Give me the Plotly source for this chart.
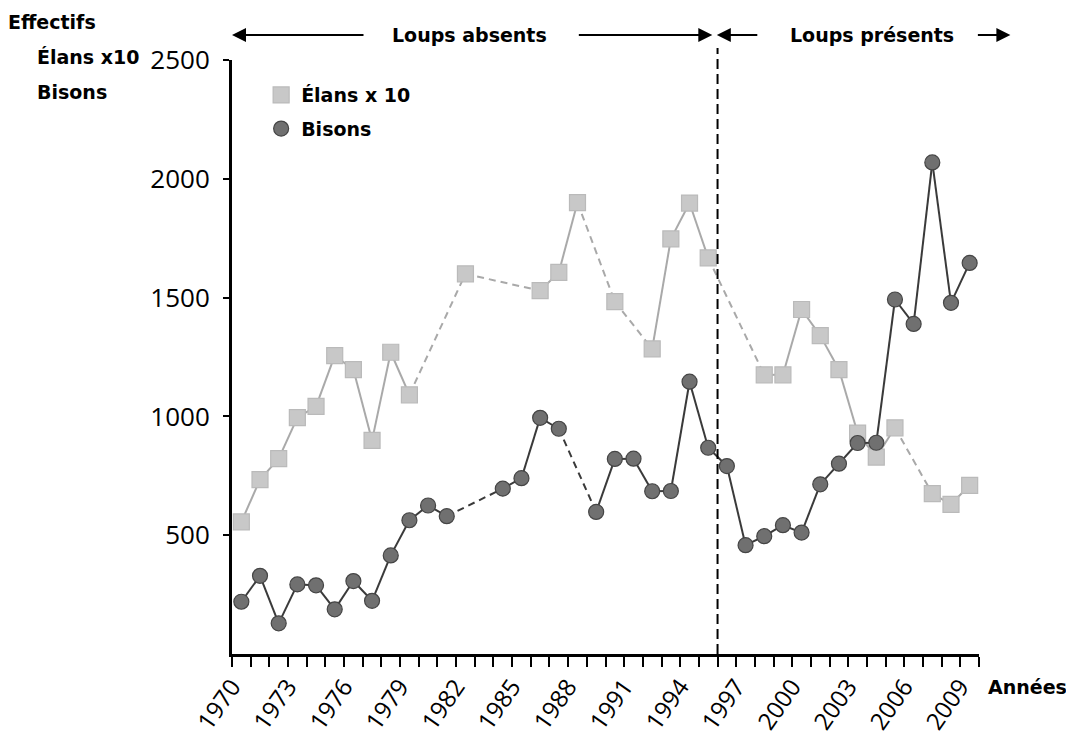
import plotly.graph_objects as go

# ---- data ----
years_elans = [1970, 1971, 1972, 1973, 1974, 1975, 1976, 1977, 1978, 1979,
               1982, 1986, 1987, 1988, 1990, 1992, 1993, 1994, 1995,
               1998, 1999, 2000, 2001, 2002, 2003, 2004, 2005, 2007, 2008, 2009]
elans_x10 = [556, 734, 822, 995, 1042, 1256, 1197, 899, 1270, 1091,
             1600, 1529, 1606, 1900, 1483, 1284, 1747, 1898, 1667,
             1175, 1175, 1450, 1340, 1197, 930, 829, 952, 675, 630, 710]

years_bisons = [1970, 1971, 1972, 1973, 1974, 1975, 1976, 1977, 1978, 1979, 1980, 1981,
                1984, 1985, 1986, 1987,
                1989, 1990, 1991, 1992, 1993, 1994, 1995, 1996, 1997, 1998, 1999,
                2000, 2001, 2002, 2003, 2004, 2005, 2006, 2007, 2008, 2009]
bisons = [220, 329, 129, 293, 289, 188, 307, 224, 415, 563, 625, 580,
          696, 740, 994, 948,
          598, 821, 822, 685, 686, 1146, 868, 791, 458, 496, 542,
          511, 714, 801, 888, 889, 1492, 1389, 2069, 1478, 1646]

label_years = list(range(1970, 2010, 3))
y_ticks = [500, 1000, 1500, 2000, 2500]
wolves_boundary = 1995.5  # start of wolf presence (boundary between year slots)

FIRST_YEAR, LAST_YEAR = 1970, 2009

ELANS_FILL = "#c8c8c8"
ELANS_EDGE = "#bababa"
ELANS_LINE = "#a9a9a9"
BISON_FILL = "#707070"
BISON_EDGE = "#454545"
BISON_LINE = "#3a3a3a"

TXT_FONT = "DejaVu Sans"
NUM_FONT = "Open Sans"


def split_segments(xs, ys):
    """Solid segments between consecutive years, dashed across missing years."""
    sx, sy, dx, dy = [], [], [], []
    for i in range(len(xs) - 1):
        seg_x, seg_y = [xs[i], xs[i + 1], None], [ys[i], ys[i + 1], None]
        if xs[i + 1] - xs[i] == 1:
            sx += seg_x; sy += seg_y
        else:
            dx += seg_x; dy += seg_y
    return sx, sy, dx, dy


fig = go.Figure()

for xs, ys, lc, name, sym, fill, edge, size, grp in [
    (years_elans, elans_x10, ELANS_LINE, "Élans x 10", "square", ELANS_FILL, ELANS_EDGE, 16, "e"),
    (years_bisons, bisons, BISON_LINE, "Bisons", "circle", BISON_FILL, BISON_EDGE, 15, "b"),
]:
    sx, sy, dx, dy = split_segments(xs, ys)
    fig.add_trace(go.Scatter(x=sx, y=sy, mode="lines", line=dict(color=lc, width=2),
                             showlegend=False, hoverinfo="skip"))
    fig.add_trace(go.Scatter(x=dx, y=dy, mode="lines",
                             line=dict(color=lc, width=2, dash="7px,5px"),
                             showlegend=False, hoverinfo="skip"))
    fig.add_trace(go.Scatter(x=xs, y=ys, mode="markers", name=name, legendgroup=grp,
                             marker=dict(symbol=sym, size=size, color=fill,
                                         line=dict(color=edge, width=1.2))))

# x ticks at year-slot boundaries
tickvals = [y - 0.5 for y in range(FIRST_YEAR, LAST_YEAR + 2)]
ticktext = [str(y) if y in label_years else "" for y in range(FIRST_YEAR, LAST_YEAR + 2)]

fig.update_xaxes(
    range=[FIRST_YEAR - 0.5, LAST_YEAR + 0.5],
    tickmode="array", tickvals=tickvals, ticktext=ticktext,
    tickangle=-55, ticks="outside", ticklen=10, tickwidth=2, tickcolor="black",
    showline=True, linecolor="black", linewidth=3, automargin=False,
    showgrid=False, zeroline=False, ticklabelstandoff=-4,
    tickfont=dict(family=NUM_FONT, size=24, color="black"),
)
fig.update_yaxes(
    range=[0, 2500], tickmode="array", tickvals=y_ticks,
    ticks="outside", ticklen=6, tickwidth=2, tickcolor="black",
    showline=True, linecolor="black", linewidth=3, automargin=False,
    showgrid=False, zeroline=False, ticklabelstandoff=8,
    tickfont=dict(family=NUM_FONT, size=26, color="black"),
)

fig.add_shape(type="line", xref="x", yref="paper", x0=wolves_boundary, x1=wolves_boundary,
              y0=0, y1=1.02, line=dict(color="black", width=2, dash="10px,5px"))

bold = dict(family=TXT_FONT, size=19, color="black", weight="bold")
ann = []
for text, x, y in [("Effectifs", -0.302, 1.064), ("Élans x10", -0.264, 1.005), ("Bisons", -0.264, 0.946)]:
    ann.append(dict(text=text, xref="paper", yref="paper", x=x, y=y,
                    xanchor="left", yanchor="middle", showarrow=False, font=bold))
ann.append(dict(text="Années", xref="paper", yref="paper", x=1.01, y=-0.055,
                xanchor="left", yanchor="middle", showarrow=False, font=bold))
ann.append(dict(text="Loups absents", xref="paper", yref="paper", x=0.318, y=1.042,
                xanchor="center", yanchor="middle", showarrow=False, font=bold))
ann.append(dict(text="Loups présents", xref="paper", yref="paper", x=0.857, y=1.042,
                xanchor="center", yanchor="middle", showarrow=False, font=bold))
# arrows (head at x, tail offset ax in pixels)
for head, ax in [(0.0, 133), (0.643, -135), (0.649, 42), (1.042, -34)]:
    ann.append(dict(text="", xref="paper", yref="paper", x=head, y=1.042,
                    ax=ax, ay=0, axref="pixel", ayref="pixel", showarrow=True,
                    arrowhead=2, arrowsize=1.4, arrowwidth=2, arrowcolor="black"))

# the page body adds an 8px offset, so the figure is 8px smaller and shifted
fig.update_layout(
    width=1066, height=730,
    margin=dict(l=224, r=95, t=52, b=84),
    plot_bgcolor="white", paper_bgcolor="white",
    annotations=ann,
    legend=dict(x=0.039, y=0.973, xanchor="left", yanchor="top",
                bgcolor="rgba(0,0,0,0)", tracegroupgap=6,
                font=dict(family=TXT_FONT, size=19, color="black", weight="bold")),
)

fig.write_html("out.html")
